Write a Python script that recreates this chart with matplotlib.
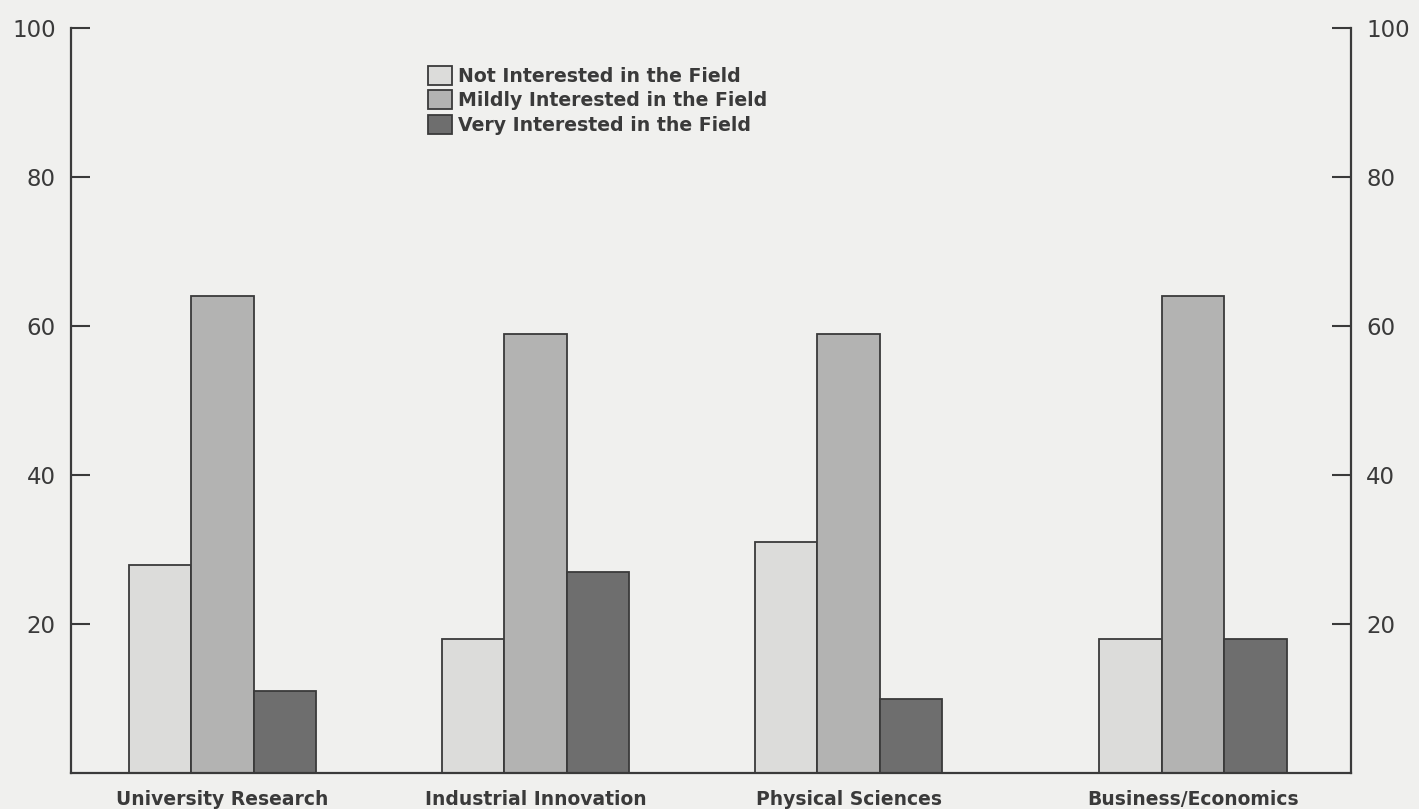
import matplotlib
matplotlib.use("Agg")
import matplotlib.pyplot as plt
import numpy as np

# Survey responses (percent) by field
categories = ["University Research", "Industrial Innovation",
              "Physical Sciences", "Business/Economics"]
series_names = ["Not Interested in the Field",
                "Mildly Interested in the Field",
                "Very Interested in the Field"]
not_interested = [28, 18, 31, 18]
mildly_interested = [64, 59, 59, 64]
very_interested = [11, 27, 10, 18]
y_ticks = [20, 40, 60, 80, 100]

series = [not_interested, mildly_interested, very_interested]
fills = ["#dcdcda", "#b3b3b2", "#6e6e6e"]
ink = "#3a3a3a"
paper = "#f0f0ee"

W, H = 1419, 809
fig = plt.figure(figsize=(W / 100, H / 100), dpi=100)
fig.patch.set_facecolor(paper)

left, right, top, bottom = 71, 1351, 28, 773.4
ax = fig.add_axes([left / W, (H - bottom) / H, (right - left) / W, (bottom - top) / H])
ax.set_facecolor(paper)

centers = np.array([0.0, 1.0, 2.0, 3.1])
width = 0.2
for i, (vals, col, name) in enumerate(zip(series, fills, series_names)):
    ax.bar(centers + (i - 1) * width, vals, width=width, color=col,
           edgecolor=ink, linewidth=1.3, label=name, zorder=2)

ax.set_ylim(0, 100)
ax.set_xlim(-0.484, 3.605)

ax.spines["top"].set_visible(False)
for s in ("left", "right", "bottom"):
    ax.spines[s].set_color(ink)
    ax.spines[s].set_linewidth(1.6)

ax.set_yticks(y_ticks)
ax.set_yticklabels([str(v) for v in y_ticks])
ax.tick_params(axis="y", which="both", direction="in", length=14, width=1.5,
               color=ink, left=True, right=True, labelleft=True, labelright=True,
               pad=11, labelsize=16.5, labelcolor=ink)

ax.set_xticks(centers)
ax.set_xticklabels(categories, fontsize=13.5, fontweight="bold",
                   family="DejaVu Sans", color=ink)
ax.tick_params(axis="x", length=0, pad=12)

leg = ax.legend(loc="upper left", bbox_to_anchor=(428 / W, 1 - 66 / H),
                bbox_transform=fig.transFigure, frameon=False,
                borderpad=0, borderaxespad=0, handlelength=1.28,
                handleheight=1.17, labelspacing=0.24, handletextpad=0.3,
                prop={"family": "DejaVu Sans", "weight": "bold", "size": 13.6})
for t in leg.get_texts():
    t.set_color(ink)

fig.savefig("out.png", dpi=100, facecolor=paper)
